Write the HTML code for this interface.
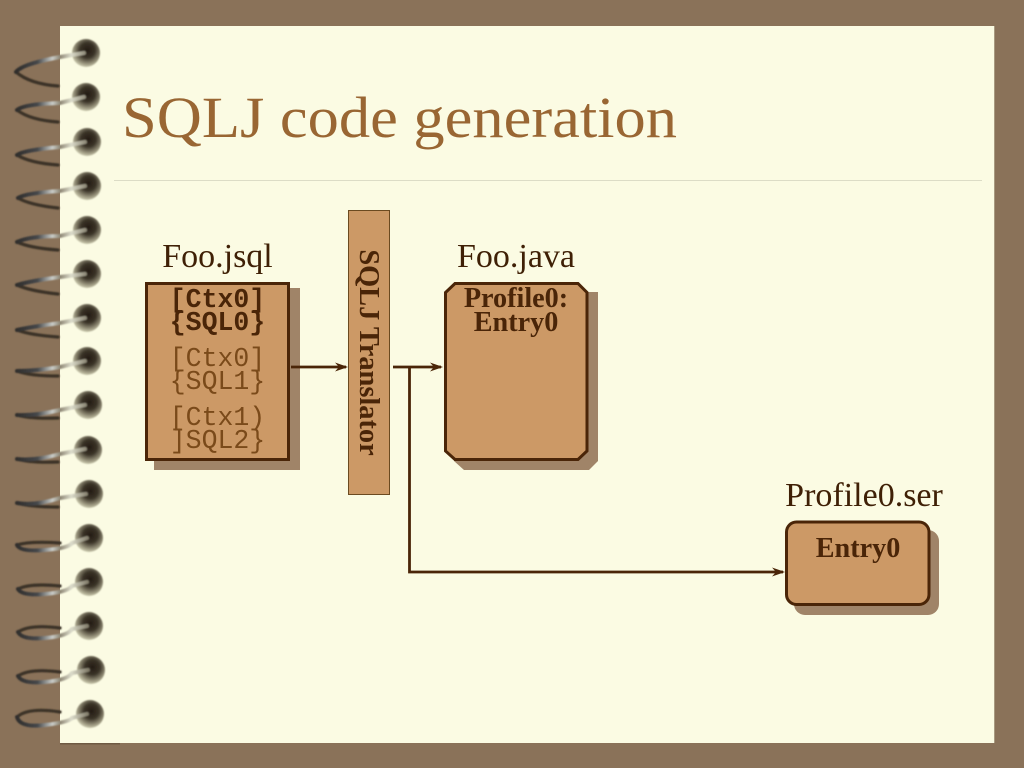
<!DOCTYPE html>
<html><head><meta charset="utf-8"><title>SQLJ code generation</title>
<style>html,body{margin:0;padding:0;background:#8a7259}svg{display:block}</style></head>
<body>
<svg width="1024" height="768" viewBox="0 0 1024 768" xmlns="http://www.w3.org/2000/svg">
<defs>
<linearGradient id="w" gradientUnits="userSpaceOnUse" x1="15" y1="0" x2="90" y2="0">
<stop offset="0" stop-color="#2e2c2a"/><stop offset=".3" stop-color="#45474a"/><stop offset=".5" stop-color="#c9ccc8"/><stop offset=".6" stop-color="#8d8674"/><stop offset=".75" stop-color="#dcdccb"/><stop offset="1" stop-color="#77715f"/>
</linearGradient>
<radialGradient id="h" cx=".55" cy=".4" r=".64">
<stop offset="0" stop-color="#241c14"/><stop offset=".42" stop-color="#3a3327"/><stop offset=".72" stop-color="#8d8872"/><stop offset=".92" stop-color="#c5c3a8"/><stop offset="1" stop-color="#d8d6bc"/>
</radialGradient>
<filter id="b" x="-10%" y="-10%" width="120%" height="120%"><feGaussianBlur stdDeviation="0.7"/></filter>
</defs>
<rect width="1024" height="768" fill="#8a7259"/>
<rect x="60" y="26" width="60" height="1" fill="#6f5a44"/>
<rect x="60" y="743" width="60" height="1.5" fill="#6f5a44"/>
<rect x="60" y="26" width="934" height="717" fill="#fbfbe3"/>
<rect x="994" y="26" width="1" height="717" fill="#a89a80"/>

<text x="122" y="137" font-family="'Liberation Serif',serif" font-size="58" fill="#996633" textLength="555" lengthAdjust="spacingAndGlyphs">SQLJ code generation</text>
<rect x="114" y="180" width="868" height="1" fill="#dcdcc6"/>

<!-- rings -->
<g filter="url(#b)">
<g fill="url(#h)">
<circle cx="86" cy="53" r="14"/><circle cx="86" cy="97" r="14"/><circle cx="87" cy="142" r="14"/><circle cx="87" cy="186" r="14"/><circle cx="87" cy="230" r="14"/><circle cx="87" cy="274" r="14"/><circle cx="87" cy="318" r="14"/><circle cx="87" cy="361" r="14"/><circle cx="88" cy="405" r="14"/><circle cx="88" cy="450" r="14"/><circle cx="89" cy="494" r="14"/><circle cx="89" cy="538" r="14"/><circle cx="89" cy="582" r="14"/><circle cx="89" cy="626" r="14"/><circle cx="91" cy="670" r="14"/><circle cx="90" cy="714" r="14"/>
</g>
<g fill="none" stroke-linecap="round">
<g stroke="#3a3026" stroke-width="3.2">
<path d="M58,86Q30,84 16,72"/><path d="M58,122Q30,120 17,110"/><path d="M58,165Q30,163 17,155"/><path d="M58,208Q30,205 18,198"/><path d="M58,250Q30,248 17,242"/><path d="M58,294Q30,291 17,285"/><path d="M58,337Q30,335 17,330"/><path d="M58,376Q30,376 17,371"/><path d="M58,418Q30,419 17,415"/><path d="M58,462Q30,463 17,459"/><path d="M58,507Q30,507 17,503"/>
<path d="M60,543Q30,541 17,545"/><path d="M60,586Q30,583 18,589"/><path d="M60,628Q30,624 18,632"/><path d="M60,672Q30,668 18,676"/><path d="M60,712Q28,707 17,717"/>
</g>
<g stroke="url(#w)" stroke-width="4">
<path d="M16,72Q22,64 60,57L84,53"/><path d="M17,110Q24,104 60,103L84,97"/><path d="M17,155Q24,150 60,147L85,142"/><path d="M18,198Q26,193 60,191L85,186"/><path d="M17,242Q30,236 60,236L85,230"/><path d="M17,285Q30,281 60,277L85,274"/><path d="M17,330Q30,327 60,323L85,318"/><path d="M17,371Q35,371 60,367L85,361"/><path d="M17,415Q35,416 60,410L85,405"/><path d="M17,459Q35,461 60,454L85,449"/><path d="M17,503Q35,506 60,498L86,494"/>
<path d="M17,545Q20,552 45,550T72,543L87,538"/><path d="M18,589Q22,596 45,594T72,586L87,582"/><path d="M18,632Q22,640 45,638T72,629L87,626"/><path d="M18,676Q22,684 45,682T72,673L88,670"/><path d="M17,717Q20,728 45,725T72,718L87,714"/>
</g>
</g>
</g>

<!-- shadows -->
<rect x="154" y="288" width="146" height="182" fill="#a08468"/>
<path d="M464,292H598V461L589,470H464L454,461V300Z" fill="#a08468"/>
<rect x="794" y="530" width="145" height="85" rx="11" fill="#a08468"/>

<!-- boxes -->
<rect x="146.500" y="283.500" width="142" height="176" fill="#cc9966" stroke="#4a2508" stroke-width="3"/>
<rect x="348.500" y="210.500" width="41" height="284" fill="#cc9966" stroke="#6b4a20" stroke-width="1"/>
<path d="M455,283.500H578L587,292.500V451L578,459.500H455L445.500,451V292.500Z" fill="#cc9966" stroke="#4a2508" stroke-width="3"/>
<rect x="786.500" y="522" width="142.500" height="82.500" rx="10" fill="#cc9966" stroke="#4a2508" stroke-width="3"/>

<!-- connectors -->
<g stroke="#4a2508" stroke-width="2.800" fill="none">
<path d="M291,367H346"/>
<path d="M393,367H441"/>
<path d="M409.500,367V572H783"/>
</g>
<g fill="#4a2508">
<path d="M348,367L335,362.500L339,367L335,371.500Z"/>
<path d="M443,367L430,362.500L434,367L430,371.500Z"/>
<path d="M785,572L772,567.500L776,572L772,576.500Z"/>
</g>

<!-- labels -->
<g font-family="'Liberation Serif',serif" font-size="34" fill="#3f2006" text-anchor="middle">
<text x="217.500" y="267">Foo.jsql</text>
<text x="516" y="267">Foo.java</text>
<text x="864" y="506">Profile0.ser</text>
</g>
<g font-family="'Liberation Mono',monospace" font-size="26.500" text-anchor="middle">
<g font-weight="bold" fill="#4a2508">
<text x="217.500" y="307">[Ctx0]</text>
<text x="217.500" y="330">{SQL0}</text>
</g>
<g fill="#7a4a1a">
<text x="217.500" y="366">[Ctx0]</text>
<text x="217.500" y="389">{SQL1}</text>
<text x="217.500" y="425">[Ctx1)</text>
<text x="217.500" y="448">]SQL2}</text>
</g>
</g>
<g font-family="'Liberation Serif',serif" font-weight="bold" fill="#4a2508" text-anchor="middle">
<g font-size="28.200">
<text x="516" y="307">Profile0:</text>
<text x="516" y="331">Entry0</text>
<text x="858" y="557">Entry0</text>
</g>
<text font-size="28.400" transform="translate(360,352.500) rotate(90)" x="0" y="0">SQLJ Translator</text>
</g>
</svg>
</body></html>
